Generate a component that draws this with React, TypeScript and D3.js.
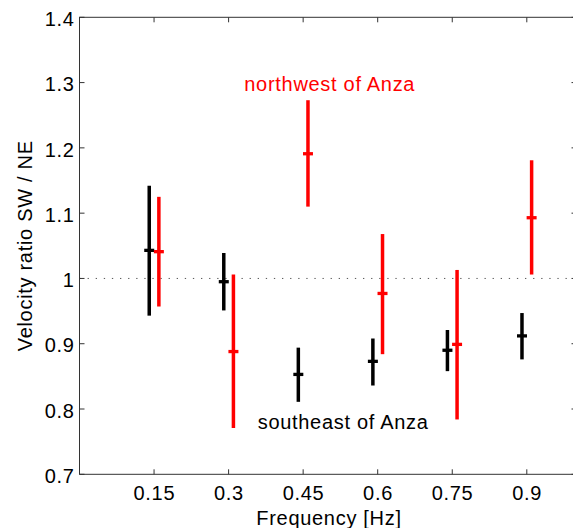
import React from "react";
import * as d3 from "d3";

const frequencies = [0.15, 0.3, 0.45, 0.6, 0.75, 0.9];
const southeastValues = [1.043, 0.995, 0.853, 0.873, 0.89, 0.912];
const southeastLow = [0.943, 0.951, 0.811, 0.836, 0.858, 0.876];
const southeastHigh = [1.142, 1.039, 0.894, 0.908, 0.921, 0.947];
const northwestValues = [1.041, 0.888, 1.191, 0.977, 0.899, 1.093];
const northwestLow = [0.957, 0.771, 1.11, 0.884, 0.784, 1.006];
const northwestHigh = [1.125, 1.006, 1.273, 1.068, 1.013, 1.181];
const xTickLabels = ["0.15", "0.3", "0.45", "0.6", "0.75", "0.9"];
const yTicks = [0.7, 0.8, 0.9, 1.0, 1.1, 1.2, 1.3, 1.4];
const yTickLabels = ["0.7", "0.8", "0.9", "1", "1.1", "1.2", "1.3", "1.4"];

const W = 573;
const H = 528;
const left = 79.5;
const right = 576.5;
const top = 17.3;
const bottom = 474.3;
const FONT = "'Liberation Sans', Arial, Helvetica, sans-serif";
const FS = 20;
const LS = 0.7;

export default function App() {
  const x = d3.scaleLinear().domain([0, 1]).range([left, right]);
  const y = d3.scaleLinear().domain([0.7, 1.4]).range([bottom, top]);
  const offset = 0.0097;
  const capHalf = 5;
  const axisColor = "#333";

  const series = [
    { color: "#000", dx: -offset, v: southeastValues, lo: southeastLow, hi: southeastHigh },
    { color: "#ff0000", dx: offset, v: northwestValues, lo: northwestLow, hi: northwestHigh },
  ];

  return (
    <svg
      width={W}
      height={H}
      style={{ position: "fixed", left: 0, top: 0, background: "#fff" }}
      fontFamily={FONT}
    >
      <rect x={0} y={0} width={W} height={H} fill="#fff" />
      {/* dotted reference line */}
      <line
        x1={left}
        x2={right}
        y1={y(1.0)}
        y2={y(1.0)}
        stroke="#555"
        strokeWidth={1}
        strokeDasharray="1.3 6.8"
      />
      {/* error bars */}
      {series.map((s, si) =>
        frequencies.map((f, i) => {
          const cx = x(f + s.dx);
          return (
            <g key={`${si}-${i}`}>
              <line x1={cx} x2={cx} y1={y(s.lo[i])} y2={y(s.hi[i])} stroke={s.color} strokeWidth={3.5} />
              <line
                x1={cx - capHalf}
                x2={cx + capHalf}
                y1={y(s.v[i])}
                y2={y(s.v[i])}
                stroke={s.color}
                strokeWidth={3.3}
              />
            </g>
          );
        })
      )}
      {/* axes box */}
      <rect x={left} y={top} width={right - left} height={bottom - top} fill="none" stroke={axisColor} strokeWidth={1} />
      {/* x ticks */}
      {frequencies.map((f, i) => (
        <g key={`xt${i}`}>
          <line x1={x(f)} x2={x(f)} y1={bottom} y2={bottom - 5} stroke={axisColor} />
          <line x1={x(f)} x2={x(f)} y1={top} y2={top + 5} stroke={axisColor} />
          <text
            x={x(f) + LS / 2}
            y={bottom + 25.5}
            textAnchor="middle"
            fontSize={FS}
            letterSpacing={LS}
            fill="#000"
          >
            {xTickLabels[i]}
          </text>
        </g>
      ))}
      {/* y ticks */}
      {yTicks.map((t, i) => (
        <g key={`yt${i}`}>
          <line x1={left} x2={left + 5} y1={y(t)} y2={y(t)} stroke={axisColor} />
          <line x1={right} x2={right - 5} y1={y(t)} y2={y(t)} stroke={axisColor} />
          <text x={74.7} y={y(t) + 8.7} textAnchor="end" fontSize={FS} letterSpacing={LS} fill="#000">
            {yTickLabels[i]}
          </text>
        </g>
      ))}
      {/* annotations */}
      <text x={244.3} y={90.5} fontSize={FS} letterSpacing={LS} fill="#ff0000">
        northwest of Anza
      </text>
      <text x={257.7} y={429.3} fontSize={FS} letterSpacing={LS} fill="#000">
        southeast of Anza
      </text>
      {/* axis labels */}
      <text x={329} y={524.7} textAnchor="middle" fontSize={FS} letterSpacing={LS} fill="#000">
        Frequency [Hz]
      </text>
      <text
        transform={`translate(31.5, ${(top + bottom) / 2}) rotate(-90)`}
        textAnchor="middle"
        fontSize={FS}
        letterSpacing={LS}
        fill="#000"
      >
        Velocity ratio SW / NE
      </text>
    </svg>
  );
}
